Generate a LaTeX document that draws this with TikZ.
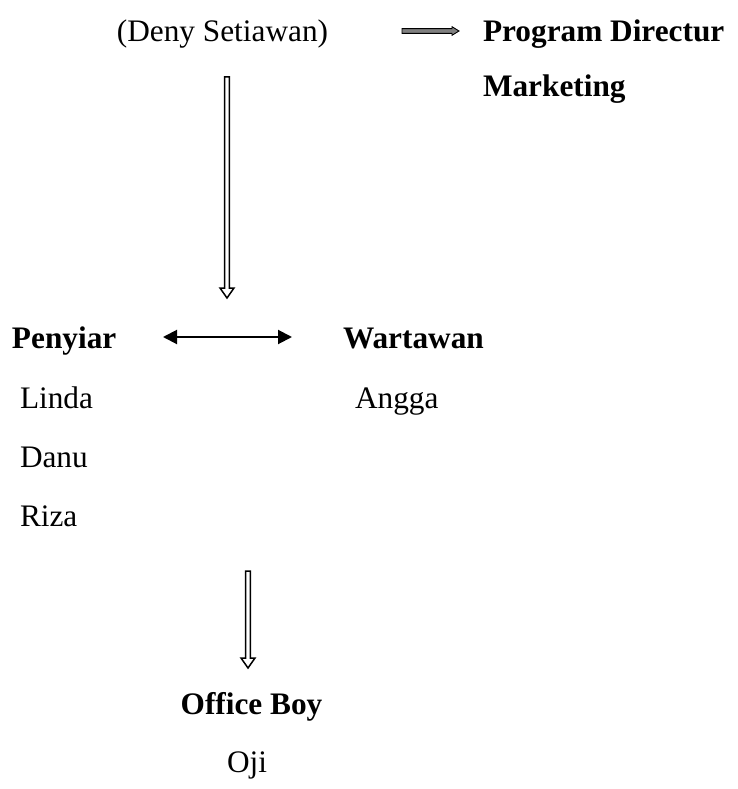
\documentclass[tikz,border=0pt]{standalone}
\usepackage{fontspec}
\setmainfont{Liberation Serif}
\usetikzlibrary{arrows.meta,calc}
\tikzset{
  txt/.style={inner sep=0pt, outer sep=0pt, font=\fontsize{31.3}{37}\selectfont},
  btxt/.style={txt, font=\fontsize{31.3}{37}\selectfont\bfseries},
  downblock/.style={draw=black, fill=white, line width=1.5pt, line join=miter,
    to path={let \p1=(\tikztostart), \p2=(\tikztotarget) in
      (\x1-2.4pt,\y1) -- (\x1+2.4pt,\y1) -- (\x1+2.4pt,\y2+10pt) -- (\x1+7pt,\y2+10pt)
      -- (\x2,\y2) -- (\x1-7pt,\y2+10pt) -- (\x1-2.4pt,\y2+10pt) -- cycle}},
  rightblock/.style={draw=black, fill=gray, line width=0.9pt, line join=miter,
    to path={let \p1=(\tikztostart), \p2=(\tikztotarget) in
      (\x1,\y1+2.4pt) -- (\x2-7pt,\y1+2.4pt) -- (\x2-7pt,\y1+4.3pt) -- (\x2,\y2)
      -- (\x2-7pt,\y1-4.3pt) -- (\x2-7pt,\y1-2.4pt) -- (\x1,\y1-2.4pt) -- cycle}},
  twoway/.style={line width=2pt, {Triangle[length=14pt,width=14pt]}-{Triangle[length=14pt,width=14pt]}}
}
\begin{document}
\begin{tikzpicture}[x=1pt,y=-1pt]
\useasboundingbox (0,0) rectangle (737,789);
% texts
\node[txt, anchor=base] (deny) at (222.5,42) {(Deny Setiawan)};
\node[btxt, anchor=base west] (prog) at (483,42) {Program Directur};
\node[btxt, anchor=base west] (mkt) at (483,97) {Marketing};
\node[btxt, anchor=base west] (peny) at (12,348) {Penyiar};
\node[btxt, anchor=base west] (wart) at (343,348) {Wartawan};
\node[txt, anchor=base west] (linda) at (20,408) {Linda};
\node[txt, anchor=base west] (angga) at (355,408) {Angga};
\node[txt, anchor=base west] (danu) at (20,467) {Danu};
\node[txt, anchor=base west] (riza) at (20,526) {Riza};
\node[btxt, anchor=base] (ob) at (251.5,714) {Office Boy};
\node[txt, anchor=base] (oji) at (247,772) {Oji};
% connector end points
\coordinate (g1) at (402,31);
\coordinate (g2) at (459,31);
\coordinate (v1a) at (227,77);
\coordinate (v1b) at (227,298);
\coordinate (d1) at (163,337);
\coordinate (d2) at (292,337);
\coordinate (v2a) at (248,571);
\coordinate (v2b) at (248,668);
% connectors
\draw[rightblock] (g1) to (g2);
\draw[downblock] (v1a) to (v1b);
\draw[twoway] (d1) -- (d2);
\draw[downblock] (v2a) to (v2b);
\end{tikzpicture}
\end{document}
